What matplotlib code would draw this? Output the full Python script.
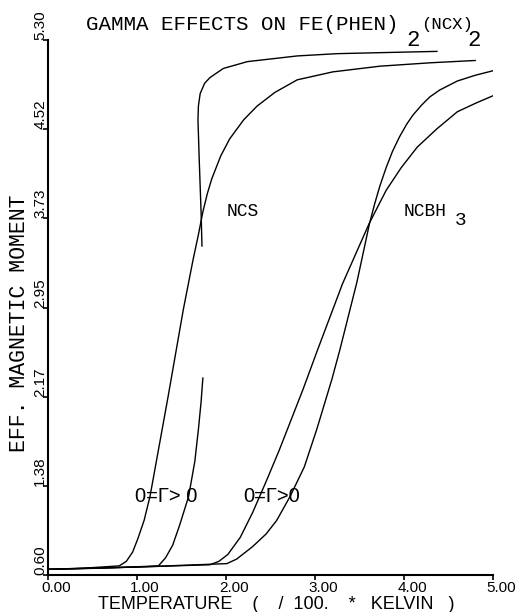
import matplotlib
matplotlib.use("Agg")
import matplotlib.pyplot as plt
from matplotlib.transforms import ScaledTranslation

plt.rcParams['font.family'] = ['Liberation Mono', 'DejaVu Sans Mono']
SANS = ['Liberation Sans', 'DejaVu Sans']  # plain zero for the numbers

# NCS, gamma = 0 (smooth curve)
ncs_g0_t = [0.00, 0.40, 0.80, 0.88, 0.95, 1.01, 1.08, 1.146, 1.35, 1.52, 1.63, 1.69, 1.74,
            1.79, 1.84, 1.94, 2.04, 2.20, 2.35, 2.55, 2.80, 3.20, 3.73, 4.30, 4.80]
ncs_g0_mu = [0.65, 0.66, 0.68, 0.72, 0.80, 0.92, 1.08, 1.29, 2.17, 2.93, 3.37, 3.59, 3.79,
             3.95, 4.08, 4.28, 4.43, 4.60, 4.72, 4.84, 4.95, 5.02, 5.07, 5.10, 5.12]

# NCS, gamma > 0, lower branch
ncs_lo_t = [0.00, 0.60, 1.24, 1.32, 1.40, 1.48, 1.58, 1.65, 1.69, 1.72, 1.74]
ncs_lo_mu = [0.65, 0.66, 0.68, 0.75, 0.86, 1.04, 1.29, 1.60, 1.88, 2.12, 2.33]

# NCS, gamma > 0, upper branch
ncs_hi_t = [1.73, 1.72, 1.70, 1.685, 1.69, 1.71, 1.76, 1.82, 1.97, 2.24, 2.80, 3.25, 3.80, 4.37]
ncs_hi_mu = [3.49, 3.79, 4.23, 4.60, 4.72, 4.83, 4.92, 4.97, 5.05, 5.11, 5.16, 5.18, 5.19, 5.20]

# NCBH3, first curve
bh_a_t = [0.00, 1.00, 1.82, 1.92, 2.02, 2.16, 2.30, 2.45, 2.60, 2.865, 3.03, 3.31, 3.61,
          3.80, 3.97, 4.15, 4.37, 4.60, 4.82, 5.00]
bh_a_mu = [0.65, 0.67, 0.69, 0.72, 0.78, 0.93, 1.15, 1.42, 1.70, 2.23, 2.58, 3.16, 3.69,
           3.98, 4.18, 4.36, 4.52, 4.67, 4.75, 4.81]

# NCBH3, second curve
bh_b_t = [0.00, 1.00, 2.01, 2.12, 2.30, 2.45, 2.57, 2.72, 2.88, 3.02, 3.19, 3.28, 3.47,
          3.55, 3.61, 3.67, 3.73, 3.80, 3.87, 3.95, 4.03, 4.10, 4.20, 4.29, 4.40, 4.60,
          4.80, 5.00]
bh_b_mu = [0.65, 0.67, 0.70, 0.74, 0.85, 0.96, 1.08, 1.29, 1.55, 1.88, 2.32, 2.58, 3.17,
           3.46, 3.68, 3.86, 4.02, 4.18, 4.32, 4.45, 4.56, 4.64, 4.73, 4.80, 4.86, 4.94,
           4.99, 5.03]

xticks = [0, 1, 2, 3, 4, 5]
xtick_labels = ["0.00", "1.00", "2.00", "3.00", "4.00", "5.00"]
yticks = [0.60, 1.3833, 2.1667, 2.95, 3.7333, 4.5167, 5.30]
ytick_labels = ["0.60", "1.38", "2.17", "2.95", "3.73", "4.52", "5.30"]

fig = plt.figure(figsize=(5.19, 6.12), dpi=100)
ax = fig.add_axes([48 / 519, 37 / 612, 445 / 519, 535 / 612])

for t, mu in [(ncs_g0_t, ncs_g0_mu), (ncs_lo_t, ncs_lo_mu), (ncs_hi_t, ncs_hi_mu),
              (bh_a_t, bh_a_mu), (bh_b_t, bh_b_mu)]:
    ax.plot(t, mu, color='black', lw=1.0)

ax.set_xlim(0, 5)
ax.set_ylim(0.6, 5.3)
for s in ['top', 'right']:
    ax.spines[s].set_visible(False)
for s in ['left', 'bottom']:
    ax.spines[s].set_linewidth(1.5)

ax.set_xticks(xticks)
ax.set_xticklabels(xtick_labels, fontsize=11, family=SANS)
ax.set_yticks(yticks)
ax.set_yticklabels(ytick_labels, fontsize=11, family=SANS, rotation=90, va='bottom', ha='right')
ax.tick_params(axis='both', direction='out', length=3.6, width=1.2)
ax.tick_params(axis='y', pad=-3.0)
ax.tick_params(axis='x', pad=1.0)
for lab in ax.get_xticklabels():
    lab.set_transform(lab.get_transform() + ScaledTranslation(0.08, 0, fig.dpi_scale_trans))

ax.set_xlabel("TEMPERATURE    (    /  100.    *   KELVIN   )", fontsize=13, family=SANS, va='top')
ax.xaxis.set_label_coords(0.512, -0.039)
ax.set_ylabel("EFF. MAGNETIC MOMENT", fontsize=15.5)
ax.yaxis.set_label_coords(-0.040, 0.47)

# title pieces
ax.text(0.43, 5.44, "GAMMA EFFECTS ON FE(PHEN)", fontsize=15, ha='left', va='center', clip_on=False)
ax.text(4.10, 5.30, "2", fontsize=16, ha='center', va='center', clip_on=False)
ax.text(4.19, 5.44, "(NCX)", fontsize=12.5, ha='left', va='center', clip_on=False)
ax.text(4.79, 5.30, "2", fontsize=16, ha='center', va='center', clip_on=False)

ax.text(2.19, 3.79, "NCS", fontsize=13, ha='center', va='center')
ax.text(4.00, 3.79, "NCBH", fontsize=13, ha='left', va='center')
ax.text(4.57, 3.71, "3", fontsize=14, ha='left', va='center')

ax.text(0.98, 1.29, "0=Γ> 0", fontsize=14.5, family=SANS, ha='left', va='center')
ax.text(2.19, 1.29, "0=Γ>0", fontsize=14.5, family=SANS, ha='left', va='center')

fig.savefig("out.png", dpi=100)
